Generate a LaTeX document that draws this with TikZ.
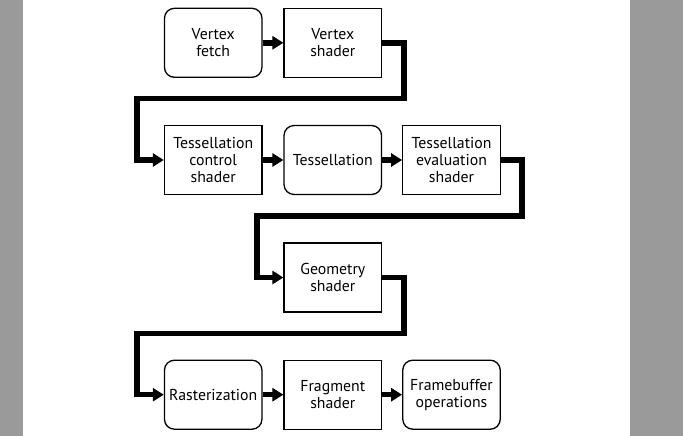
\documentclass[tikz,border=0pt]{standalone}
\usepackage{fontspec}
\setmainfont{PT Sans}
\usetikzlibrary{arrows.meta}
\definecolor{bggray}{RGB}{154,154,154}
\begin{document}
\begin{tikzpicture}[x=1pt,y=-1pt,
  stage/.style={draw=black, line width=1.3pt, minimum width=97.5pt, minimum height=69pt,
    inner sep=0pt, align=center, font=\fontsize{15.8}{17}\selectfont, text=black},
  fixedbox/.style={stage},
  progbox/.style={stage, rounded corners=10pt},
  flow/.style={line width=5.5pt, line join=miter, -{Triangle[length=11pt,width=13pt]}}]
  \fill[bggray] (0,0) rectangle (683,436);
  \fill[white] (23,0) rectangle (630,436);
  \useasboundingbox (0,0) rectangle (683,436);

  \node[progbox]  (vf)   at (213.2,42.8)  {Vertex\\fetch};
  \node[fixedbox] (vs)   at (332.8,42.8)  {Vertex\\shader};
  \node[fixedbox] (tcs)  at (213.2,160)   {Tessellation\\control\\shader};
  \node[progbox]  (tess) at (332.8,160)   {Tessellation};
  \node[fixedbox] (tes)  at (451.5,160)   {Tessellation\\evaluation\\shader};
  \node[fixedbox] (geo)  at (332.8,277.5) {Geometry\\shader};
  \node[progbox]  (rast) at (213.2,394.7) {Rasterization};
  \node[fixedbox] (frag) at (332.8,394.7) {Fragment\\shader};
  \node[progbox]  (fb)   at (451.5,394.7) {Framebuffer\\operations};

  \draw[flow] (vf.east) -- (vs.west);
  \draw[flow] (vs.east) -| (404,98.7) -- (136.8,98.7) |- (tcs.west);
  \draw[flow] (tcs.east) -- (tess.west);
  \draw[flow] (tess.east) -- (tes.west);
  \draw[flow] (tes.east) -| (522,216) -- (257,216) |- (geo.west);
  \draw[flow] (geo.east) -| (404,333.3) -- (136.8,333.3) |- (rast.west);
  \draw[flow] (rast.east) -- (frag.west);
  \draw[flow] (frag.east) -- (fb.west);
\end{tikzpicture}
\end{document}
